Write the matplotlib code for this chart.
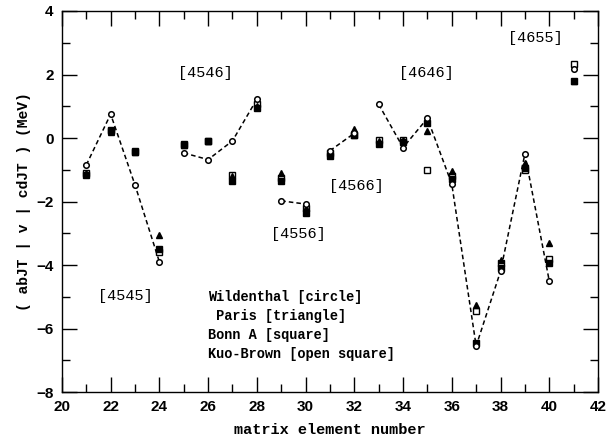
import matplotlib
matplotlib.use("Agg")
import matplotlib.pyplot as plt
import numpy as np

x = list(range(21, 42))
wildenthal = [-0.85, 0.75, -1.48, -3.90, -0.47, -0.68, -0.09, 1.22, -1.98, -2.08, -0.40,
              0.15, 1.06, -0.30, 0.62, -1.45, -6.55, -4.20, -0.50, -4.50, 2.17]
paris = [-1.10, 0.20, -0.45, -3.05, -0.22, -0.10, -1.20, 1.00, -1.10, -2.20, -0.50,
         0.27, -0.10, -0.05, 0.22, -1.05, -5.25, -3.85, -0.78, -3.30, 1.80]
bonn_a = [-1.15, 0.22, -0.45, -3.50, -0.22, -0.10, -1.35, 0.95, -1.35, -2.35, -0.58,
          0.08, -0.20, -0.12, 0.48, -1.30, -6.45, -4.10, -0.95, -3.95, 1.78]
kuo_brown = [-1.10, 0.25, -0.42, -3.60, -0.20, -0.08, -1.15, 1.08, -1.25, -2.20, -0.48,
             0.10, -0.05, -0.05, -1.00, -1.20, -5.45, -3.95, -1.00, -3.80, 2.32]

# groups of matrix elements joined by the dashed Wildenthal line
groups = [(21, 24), (25, 28), (29, 30), (31, 32), (33, 40), (41, 41)]
group_labels = ["[4545]", "[4546]", "[4556]", "[4566]", "[4646]", "[4655]"]
label_pos = [(22.6, -4.98), (25.9, 2.05), (29.7, -3.03), (32.1, -1.5), (34.95, 2.05), (39.45, 3.15)]

legend_lines = ["Wildenthal [circle]", " Paris [triangle]", "Bonn A [square]", "Kuo-Brown [open square]"]

fig = plt.figure(figsize=(6.13, 4.47), dpi=100)
ax = fig.add_axes([0.101, 0.123, 0.8745, 0.8524])

xa = np.array(x)
wa = np.array(wildenthal)
for (a, b) in groups:
    m = (xa >= a) & (xa <= b)
    ax.plot(xa[m], wa[m], color="black", lw=1.1, ls=(0, (3, 2)), zorder=2)

ax.plot(x, kuo_brown, ls="none", marker="s", ms=3.8, mfc="white", mec="black", mew=1.0, zorder=3)
ax.plot(x, bonn_a, ls="none", marker="s", ms=3.8, mfc="black", mec="black", zorder=4)
ax.plot(x, paris, ls="none", marker="^", ms=4.3, mfc="black", mec="black", zorder=4)
ax.plot(x, wildenthal, ls="none", marker="o", ms=4.0, mfc="white", mec="black", mew=1.1, zorder=5)

for lab, (px, py) in zip(group_labels, label_pos):
    ax.text(px, py, lab, ha="center", va="center", fontsize=11, family="Liberation Mono")

for i, line in enumerate(legend_lines):
    ax.text(26.0, -5.0 - 0.6 * i, line, ha="left", va="center", fontsize=9.8,
            family="Liberation Mono", fontweight="bold")

ax.set_xlim(20, 42)
ax.set_ylim(-8, 4)
ax.set_xticks(np.arange(20, 43, 2))
ax.set_xticks(np.arange(21, 42, 2), minor=True)
ax.set_yticks(np.arange(-8, 5, 2))
ax.set_yticks(np.arange(-7, 4, 2), minor=True)
ax.tick_params(which="both", direction="in", top=True, right=True, width=1.0, color="black")
ax.tick_params(which="major", length=11, pad=6)
ax.tick_params(which="minor", length=5.5)
for lab in ax.get_xticklabels() + ax.get_yticklabels():
    lab.set_family("Liberation Sans")
    lab.set_fontweight("bold")
    lab.set_fontsize(11)
for s in ax.spines.values():
    s.set_linewidth(1.0)

ax.set_xlabel("matrix element number", family="Liberation Mono", fontweight="bold", fontsize=11, labelpad=6)
ax.set_ylabel("( abJT | v | cdJT ) (MeV)", family="Liberation Mono", fontweight="bold", fontsize=10.5, labelpad=4)

fig.savefig("out.png", dpi=100)
